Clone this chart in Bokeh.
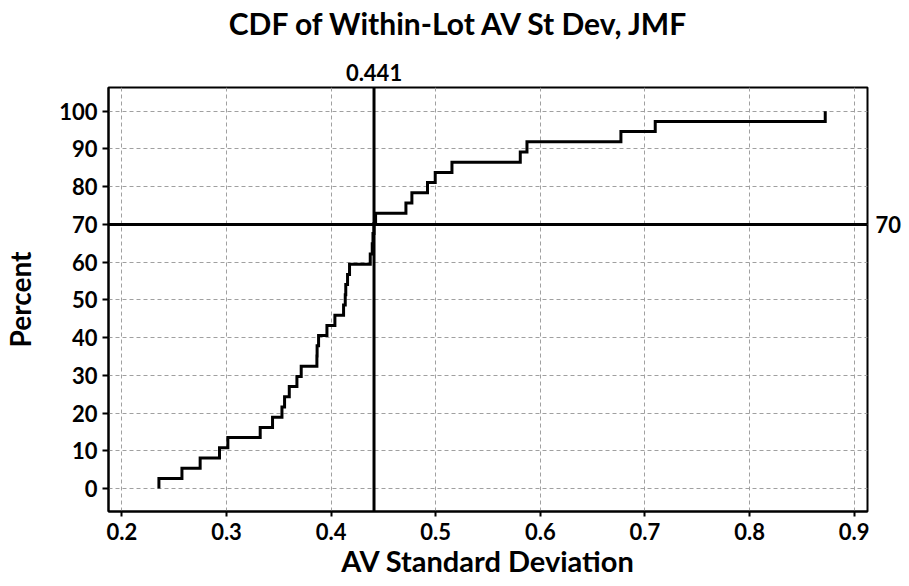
import numpy as np
from bokeh.plotting import figure
from bokeh.models import Range1d, FixedTicker, Span, LinearAxis
from bokeh.embed import file_html
from bokeh.resources import INLINE

# Sorted within-lot AV standard deviations (read from the empirical CDF)
av_sd = [0.2354, 0.2574, 0.2748, 0.2933, 0.3013, 0.3322, 0.3440, 0.3530,
         0.3555, 0.3600, 0.3673, 0.3714, 0.3864, 0.3866, 0.3880, 0.3960,
         0.4036, 0.4119, 0.4135, 0.4140, 0.4157, 0.4176, 0.4374, 0.4393,
         0.4400, 0.4410, 0.4425, 0.4715, 0.4772, 0.4921, 0.4995, 0.5155,
         0.5808, 0.5872, 0.6770, 0.7098, 0.8723]
ref_x = 0.441
ref_y = 70
x_ticks = [0.2, 0.3, 0.4, 0.5, 0.6, 0.7, 0.8, 0.9]
x_tick_labels = ["0.2", "0.3", "0.4", "0.5", "0.6", "0.7", "0.8", "0.9"]
y_ticks = [0, 10, 20, 30, 40, 50, 60, 70, 80, 90, 100]
y_tick_labels = ["0", "10", "20", "30", "40", "50", "60", "70", "80", "90", "100"]
title_text = "CDF of Within-Lot AV St Dev, JMF"
x_label = "AV Standard Deviation"
y_label = "Percent"

# Empirical CDF (percent of lots <= value)
n = len(av_sd)
pct = list(np.arange(1, n + 1) / n * 100.0)
step_x = [av_sd[0]] + av_sd
step_y = [0.0] + pct

FONT = "Lato"
BOLD_LABEL = dict(major_label_text_font=FONT, major_label_text_font_style="bold",
                  major_label_text_font_size="22px", major_label_text_color="black")
LABEL_ONLY = dict(axis_line_color=None, major_tick_line_color=None,
                  minor_tick_line_color=None, major_tick_out=0, major_tick_in=0)

p = figure(width=909, height=586, output_backend="svg", toolbar_location=None,
           title=None,
           x_range=Range1d(0.1872, 0.9127), y_range=Range1d(-6.07, 106.28),
           min_border_left=108, min_border_right=42, min_border_top=87,
           min_border_bottom=75)
p.background_fill_color = "white"
p.border_fill_color = "white"
p.outline_line_color = "black"
p.outline_line_width = 2

def style_axis(ax, ticks, labels):
    ax.ticker = FixedTicker(ticks=ticks)
    ax.major_label_overrides = {t: l for t, l in zip(ticks, labels)}
    ax.axis_line_color = "black"
    ax.axis_line_width = 2
    ax.major_tick_line_color = "black"
    ax.major_tick_line_width = 2
    ax.major_tick_in = 0
    ax.minor_tick_line_color = None
    ax.update(**BOLD_LABEL)
    ax.axis_label_text_font = FONT
    ax.axis_label_text_font_style = "bold"
    ax.axis_label_text_font_size = "28px"
    ax.axis_label_text_color = "black"

style_axis(p.xaxis[0], x_ticks, x_tick_labels)
style_axis(p.yaxis[0], y_ticks, y_tick_labels)

p.xaxis[0].major_tick_out = 5
p.xaxis[0].major_label_standoff = 6
p.xaxis[0].axis_label = x_label
p.xaxis[0].axis_label_text_font_size = "29px"
p.xaxis[0].axis_label_standoff = 0
p.yaxis[0].major_tick_out = 6
p.yaxis[0].major_label_standoff = 5
p.yaxis[0].axis_label = y_label
p.yaxis[0].axis_label_standoff = 19

p.xgrid.ticker = FixedTicker(ticks=x_ticks)
p.ygrid.ticker = FixedTicker(ticks=y_ticks)
for g in (p.xgrid, p.ygrid):
    g.grid_line_color = "#a0a0a0"
    g.grid_line_dash = "4 3"
    g.grid_line_width = 1

p.step(step_x, step_y, mode="after", line_color="black", line_width=3,
       line_join="miter")

p.add_layout(Span(location=ref_x, dimension="height", line_color="black", line_width=3))
p.add_layout(Span(location=ref_y, dimension="width", line_color="black", line_width=3))

# Reference-line value labels, drawn as label-only axes
top_ax = LinearAxis(ticker=FixedTicker(ticks=[ref_x]),
                    major_label_overrides={ref_x: f"{ref_x:.3f}"},
                    major_label_standoff=7, **LABEL_ONLY, **BOLD_LABEL)
right_ax = LinearAxis(ticker=FixedTicker(ticks=[ref_y]),
                      major_label_overrides={ref_y: f"{ref_y}"},
                      major_label_standoff=8, **LABEL_ONLY, **BOLD_LABEL)
p.add_layout(top_ax, "above")
p.add_layout(right_ax, "right")

# Chart title, centred on the whole graph (outermost panel above the plot)
title_x = 0.5229
title_ax = LinearAxis(ticker=FixedTicker(ticks=[title_x]),
                      major_label_overrides={title_x: title_text},
                      major_label_standoff=20, **LABEL_ONLY,
                      major_label_text_font=FONT, major_label_text_font_style="bold",
                      major_label_text_font_size="30px", major_label_text_color="black")
p.add_layout(title_ax, "above")

open("out.html", "w").write(file_html(p, INLINE))
